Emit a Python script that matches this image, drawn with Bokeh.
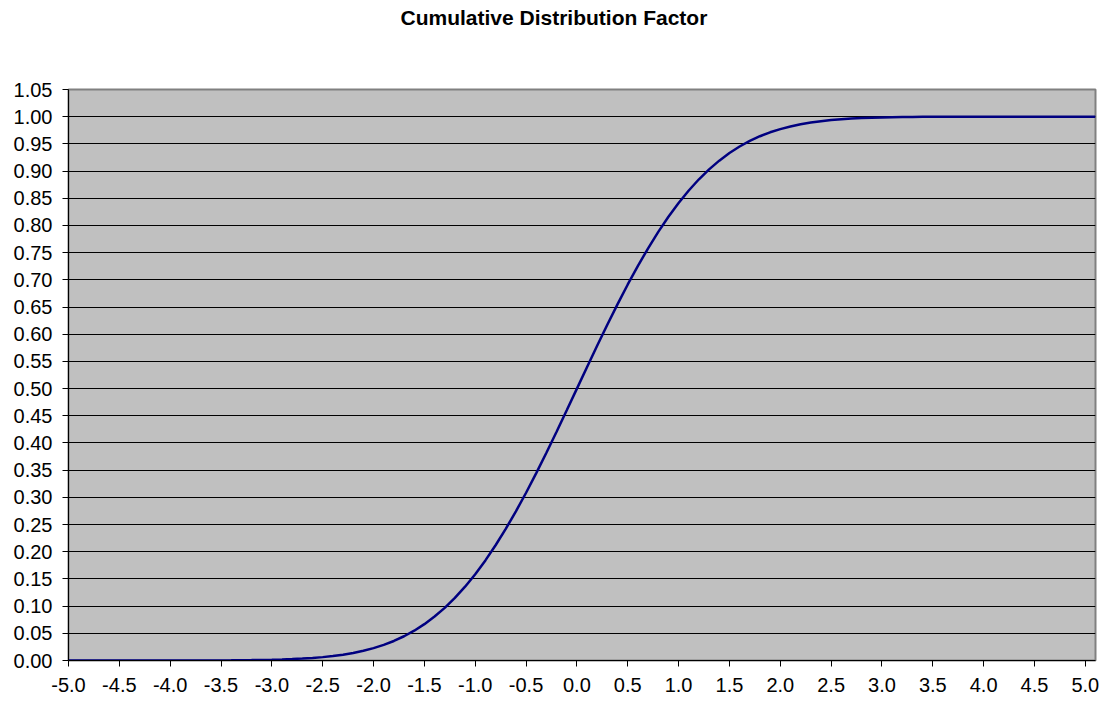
from bokeh.plotting import figure
from bokeh.models import Range1d, FixedTicker, NumeralTickFormatter, Title
from bokeh.embed import file_html
from bokeh.resources import INLINE

title_text = "Cumulative Distribution Factor"

# x sample grid (step 0.1 from -5.0 to 5.1)
x_vals = [round(-5.0 + 0.1 * i, 1) for i in range(102)]

# cumulative values
y_vals = [
    0.0000, 0.0000, 0.0000, 0.0000, 0.0000, 0.0000, 0.0000, 0.0000, 0.0000, 0.0000,  # -5.0 .. -4.1
    0.0000, 0.0000, 0.0001, 0.0001, 0.0002, 0.0002, 0.0003, 0.0005, 0.0007, 0.0010,  # -4.0 .. -3.1
    0.0013, 0.0019, 0.0026, 0.0035, 0.0047, 0.0062, 0.0082, 0.0107, 0.0139, 0.0179,  # -3.0 .. -2.1
    0.0228, 0.0287, 0.0359, 0.0446, 0.0548, 0.0668, 0.0808, 0.0968, 0.1151, 0.1357,  # -2.0 .. -1.1
    0.1587, 0.1841, 0.2119, 0.2420, 0.2743, 0.3085, 0.3446, 0.3821, 0.4207, 0.4602,  # -1.0 .. -0.1
    0.5000, 0.5398, 0.5793, 0.6179, 0.6554, 0.6915, 0.7257, 0.7580, 0.7881, 0.8159,  # 0.0 .. 0.9
    0.8413, 0.8643, 0.8849, 0.9032, 0.9192, 0.9332, 0.9452, 0.9554, 0.9641, 0.9713,  # 1.0 .. 1.9
    0.9772, 0.9821, 0.9861, 0.9893, 0.9918, 0.9938, 0.9953, 0.9965, 0.9974, 0.9981,  # 2.0 .. 2.9
    0.9987, 0.9990, 0.9993, 0.9995, 0.9997, 0.9998, 0.9998, 0.9999, 0.9999, 1.0000,  # 3.0 .. 3.9
    1.0000, 1.0000, 1.0000, 1.0000, 1.0000, 1.0000, 1.0000, 1.0000, 1.0000, 1.0000,  # 4.0 .. 4.9
    1.0000, 1.0000,                                                                  # 5.0 .. 5.1
]

x_ticks = [-5.0, -4.5, -4.0, -3.5, -3.0, -2.5, -2.0, -1.5, -1.0, -0.5, 0.0,
           0.5, 1.0, 1.5, 2.0, 2.5, 3.0, 3.5, 4.0, 4.5, 5.0]
y_ticks = [0.00, 0.05, 0.10, 0.15, 0.20, 0.25, 0.30, 0.35, 0.40, 0.45, 0.50,
           0.55, 0.60, 0.65, 0.70, 0.75, 0.80, 0.85, 0.90, 0.95, 1.00, 1.05]

FONT = "Liberation Sans"

p = figure(width=1110, height=702, output_backend="svg", toolbar_location=None,
           x_range=Range1d(-5.0, 5.1), y_range=Range1d(0.0, 1.05),
           min_border_left=68, min_border_right=15, min_border_top=89, min_border_bottom=42)

p.title = Title(text=title_text, align="left", offset=332, standoff=5,
                text_font=FONT, text_font_size="21px", text_font_style="bold",
                text_color="black")
# blank spacer between the frame and the title, pushing the title to the top
p.add_layout(Title(text=" ", standoff=33, text_font=FONT, text_font_size="21px"), "above")

p.background_fill_color = "#C0C0C0"
p.border_fill_color = "white"
p.outline_line_color = "#808080"
p.outline_line_width = 2

p.xgrid.visible = False
p.ygrid.grid_line_color = "black"
p.ygrid.grid_line_width = 1
p.ygrid.ticker = FixedTicker(ticks=y_ticks)

for ax in (p.xaxis[0], p.yaxis[0]):
    ax.axis_line_color = "black"
    ax.axis_line_width = 1
    ax.major_tick_line_color = "black"
    ax.major_tick_in = 0
    ax.major_tick_out = 6
    ax.minor_tick_line_color = None
    ax.major_label_text_font = FONT
    ax.major_label_text_font_size = "20px"
    ax.major_label_text_color = "black"

p.xaxis[0].ticker = FixedTicker(ticks=x_ticks)
p.xaxis[0].formatter = NumeralTickFormatter(format="0.0")
p.xaxis[0].major_label_standoff = 11
p.yaxis[0].ticker = FixedTicker(ticks=y_ticks)
p.yaxis[0].formatter = NumeralTickFormatter(format="0.00")
p.yaxis[0].major_label_standoff = 10

p.line(x_vals, y_vals, line_color="#000080", line_width=2.5)

open("out.html", "w").write(file_html(p, INLINE))
